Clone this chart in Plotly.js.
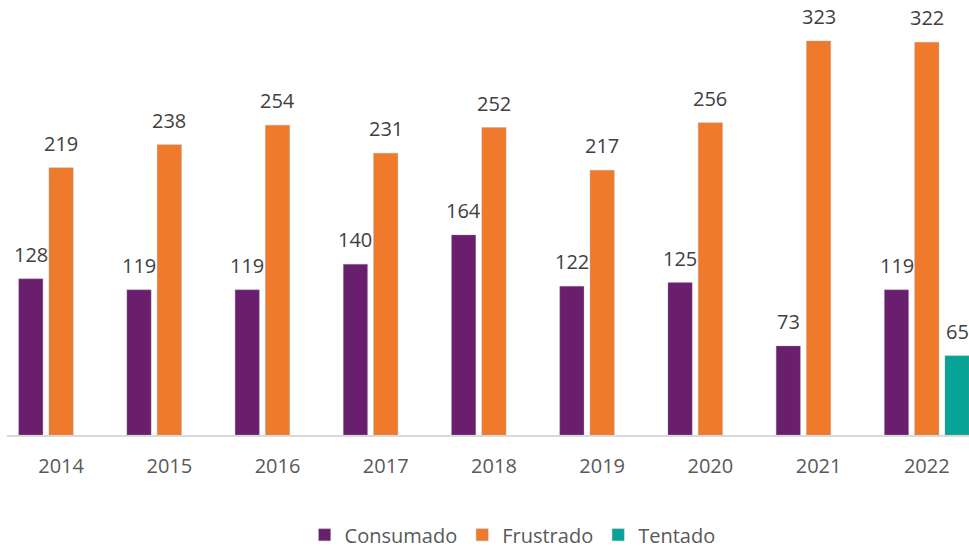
<!DOCTYPE html>
<html>
<head>
<meta charset="utf-8">
<script src="https://cdn.plot.ly/plotly-3.0.1.min.js"></script>
<style>html,body{margin:0;padding:0;background:#fff;}#chart{width:969px;height:548px;}</style>
</head>
<body>
<div id="chart"></div>
<script>
const years = ['2014','2015','2016','2017','2018','2019','2020','2021','2022'];
const consumado = [128, 119, 119, 140, 164, 122, 125, 73, 119];
const frustrado = [219, 238, 254, 231, 252, 217, 256, 323, 322];
const tentado = [null, null, null, null, null, null, null, null, 65];
const seriesNames = ['Consumado', 'Frustrado', 'Tentado'];
const seriesColors = ['#691e6e', '#f07a2c', '#07a396'];

const FONT = '"Open Sans", "Noto Sans", sans-serif';
const bargap = 0.16;
const allSeries = [consumado, frustrado, tentado];

const traces = allSeries.map((vals, s) => ({
  type: 'bar',
  name: seriesNames[s],
  x: years,
  y: vals,
  marker: {color: seriesColors[s], line: {color: 'rgba(160,160,160,0.35)', width: 1}},
  hoverinfo: 'x+y+name'
}));

const slot = (1 - bargap) / allSeries.length;
const annotations = [];
allSeries.forEach((vals, s) => {
  vals.forEach((v, i) => {
    if (v === null) return;
    annotations.push({
      x: i + (s - (allSeries.length - 1) / 2) * slot,
      y: v,
      xref: 'x', yref: 'y',
      text: String(v),
      showarrow: false,
      yanchor: 'bottom',
      yshift: 9,
      font: {family: FONT, size: 20, color: '#404040'}
    });
  });
});

const layout = {
  width: 969, height: 548,
  margin: {l: 7, r: 0, t: 0, b: 113, autoexpand: false},
  paper_bgcolor: '#ffffff', plot_bgcolor: '#ffffff',
  barmode: 'group',
  bargap: bargap,
  bargroupgap: 0.2,
  showlegend: true,
  legend: {
    orientation: 'h', xref: 'container', yref: 'container',
    x: 0.529, xanchor: 'center', y: 0.024, yanchor: 'middle',
    font: {family: FONT, size: 20, color: '#595959'},
    itemwidth: 30, traceorder: 'normal'
  },
  xaxis: {
    type: 'category',
    range: [-0.5, 8.39],
    showline: true, linecolor: '#d9d9d9', linewidth: 2,
    showgrid: false, zeroline: false,
    ticks: 'outside', ticklen: 12, tickcolor: 'rgba(0,0,0,0)',
    tickfont: {family: FONT, size: 20, color: '#595959'},
    fixedrange: true
  },
  yaxis: {
    range: [0, 356.6],
    visible: false,
    showgrid: false, zeroline: false,
    fixedrange: true
  },
  annotations: annotations,
  font: {family: FONT, color: '#595959'}
};

Plotly.newPlot('chart', traces, layout, {displayModeBar: false, staticPlot: true});
</script>
</body>
</html>
